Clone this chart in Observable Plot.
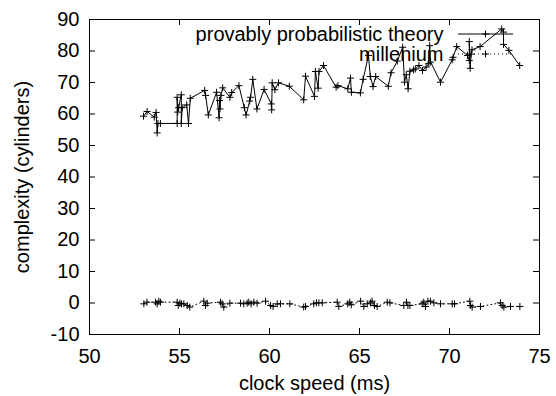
<!DOCTYPE html>
<html>
<head>
<meta charset="utf-8">
<script src="https://cdn.jsdelivr.net/npm/d3@7"></script>
<script src="https://cdn.jsdelivr.net/npm/@observablehq/plot@0.6"></script>
<style>
  html, body { margin: 0; padding: 0; background: #fff; }
  #chart svg { display: block; }
</style>
</head>
<body>
<div id="chart"></div>
<script>
// ---- data ----
const seriesNames = ["provably probabilistic theory", "millenium"];
const xLabel = "clock speed (ms)";
const yLabel = "complexity (cylinders)";
const xTicks = [50, 55, 60, 65, 70, 75];
const yTicks = [-10, 0, 10, 20, 30, 40, 50, 60, 70, 80, 90];

const theoryX = [53.0, 53.2, 53.6, 53.7, 53.76, 53.8, 53.94, 54.87, 54.87, 54.9, 54.95, 55.1, 55.1, 55.15, 55.4, 55.5, 55.6,
  56.4, 56.45, 56.6, 57.06, 57.2, 57.22, 57.25, 57.3, 57.4, 57.8, 57.9, 58.3, 58.6, 58.7, 58.9, 58.95, 59.07, 59.3, 59.7,
  60.1, 60.12, 60.15, 60.3, 60.5, 61.1, 61.9, 62.0, 62.5, 62.55, 62.7, 62.75, 63.0, 63.7, 63.8, 64.35, 64.5, 64.55,
  65.05, 65.2, 65.5, 65.6, 65.75, 65.9, 66.6, 66.75, 67.1, 67.4, 67.5, 67.6, 67.7, 67.8, 68.0, 68.1, 68.3, 68.5, 68.7,
  68.85, 68.9, 68.95, 69.5, 70.15, 70.2, 70.4, 71.0, 71.1, 71.1, 71.15, 71.2, 71.25, 71.7, 72.9, 73.0, 73.0, 73.3, 73.9];
const theoryY = [59.3, 60.8, 59.0, 60.5, 54.0, 57.0, 57.0, 57.0, 65.3, 60.6, 62.0, 66.1, 57.0, 62.0, 62.9, 57.0, 65.0,
  67.5, 65.9, 59.7, 66.9, 58.8, 64.3, 61.6, 65.9, 68.3, 65.3, 66.8, 69.0, 62.0, 59.7, 64.1, 65.3, 71.0, 61.6, 67.8,
  63.2, 61.3, 69.9, 67.7, 69.9, 68.8, 64.5, 72.0, 65.6, 73.5, 68.2, 73.5, 75.4, 68.5, 69.0, 68.0, 71.4, 66.9,
  66.7, 71.0, 78.6, 71.9, 68.7, 71.9, 68.8, 73.1, 76.8, 81.2, 70.1, 72.5, 68.0, 73.6, 74.0, 74.3, 75.4, 73.8, 74.9,
  76.0, 81.7, 76.5, 70.1, 77.2, 78.0, 81.4, 78.6, 77.0, 83.0, 74.5, 79.0, 80.4, 81.4, 87.0, 86.0, 82.1, 80.2, 75.4];

const milleniumX = [53.02, 53.19, 53.67, 53.76, 53.85, 53.94, 54.87, 54.93, 55.02, 55.11, 55.24, 55.43, 55.57,
  56.35, 56.44, 56.54, 57.28, 57.37, 57.46, 57.8, 58.39, 58.57, 58.76, 58.85, 58.98, 59.13, 59.31, 59.78,
  60.06, 60.2, 60.43, 60.61, 61.13, 61.9, 62.0, 62.46, 62.61, 62.74, 62.93, 63.76, 63.85, 64.35, 64.46, 64.54,
  65.06, 65.24, 65.43, 65.61, 65.7, 65.83, 65.98, 66.54, 66.69, 67.46, 67.61, 67.69, 67.8, 68.48, 68.57, 68.67,
  68.8, 68.94, 69.13, 69.5, 70.15, 70.28, 71.13, 71.17, 71.26, 71.72, 72.83, 72.93, 73.02, 73.39, 73.91];
const milleniumY = [-0.26, 0.26, 0.26, -0.26, 0.58, 0.26, 0.26, -0.79, -0.05, -0.26, -0.26, -0.79, -1.3,
  0.58, -0.79, -0.05, 0.26, -0.26, -1.3, -0.05, -0.05, -0.26, -0.05, 0.26, -0.26, 0.26, -0.05, 0.58,
  -0.79, -1.1, -0.26, -0.26, -0.26, -1.3, -1.1, -0.26, 0.05, 0.05, 0.05, 0.26, -1.1, -0.26, 0.26, -0.58,
  0.58, -1.1, -0.26, 0.05, 0.58, -0.79, -1.1, 0.26, 0.05, -0.79, 0.26, -0.79, -0.79, -0.26, 0.26, -1.1,
  0.58, 0.58, 0.05, -0.26, -0.26, -0.26, 0.58, -0.79, -1.3, -1.1, 0.05, -0.79, -1.3, -1.1, -1.1];

// ---- build ----
const theory = theoryX.map((x, i) => ({x, y: theoryY[i]}));
const millenium = milleniumX.map((x, i) => ({x, y: milleniumY[i]}));

const W = 556, H = 396;
const mL = 89, mR = 17, mT = 19, mB = 62;
const pw = W - mL - mR, ph = H - mT - mB;
const font = "'Liberation Sans', Arial, Helvetica, sans-serif";
const tick = 6;

const plus = {
  draw(ctx, size) {
    const r = Math.sqrt(size / Math.PI);
    ctx.moveTo(-r, 0); ctx.lineTo(r, 0);
    ctx.moveTo(0, -r); ctx.lineTo(0, r);
  }
};

const chart = Plot.plot({
  width: W, height: H,
  marginLeft: mL, marginRight: mR, marginTop: mT, marginBottom: mB,
  style: {fontFamily: font, fontSize: "20px", color: "black", background: "white"},
  x: {domain: [50, 75]},
  y: {domain: [-10, 90]},
  marks: [
    Plot.axisX({ticks: xTicks, tickSize: 0, tickPadding: 14, fontSize: 20, label: null, tickFormat: d => String(d)}),
    Plot.axisY({ticks: yTicks, tickSize: 0, tickPadding: 10, fontSize: 20, label: null, tickFormat: d => String(d)}),
    // inward ticks on all four sides
    Plot.tickX(xTicks, {x: d => d, insetTop: ph - tick, stroke: "black"}),
    Plot.tickX(xTicks, {x: d => d, insetBottom: ph - tick, stroke: "black"}),
    Plot.tickY(yTicks, {y: d => d, insetRight: pw - tick, stroke: "black"}),
    Plot.tickY(yTicks, {y: d => d, insetLeft: pw - tick, stroke: "black"}),
    // series
    Plot.line(theory, {x: "x", y: "y", stroke: "black", strokeWidth: 1}),
    Plot.dot(theory, {x: "x", y: "y", symbol: plus, r: 3.5, stroke: "black", fill: "none", strokeWidth: 1}),
    Plot.line(millenium, {x: "x", y: "y", stroke: "black", strokeWidth: 1, strokeDasharray: "1,3"}),
    Plot.dot(millenium, {x: "x", y: "y", symbol: plus, r: 3.5, stroke: "black", fill: "none", strokeWidth: 1}),
    Plot.frame({stroke: "black", strokeWidth: 1}),
    // axis titles
    Plot.text([xLabel], {text: d => d, frameAnchor: "bottom", lineAnchor: "middle", textAnchor: "middle", dy: 49, fontSize: 20, fill: "black"}),
    Plot.text([yLabel], {text: d => d, frameAnchor: "left", lineAnchor: "middle", textAnchor: "middle", rotate: -90, dx: -67, fontSize: 20, fill: "black"}),
    // legend texts
    Plot.text([seriesNames[0]], {text: d => d, frameAnchor: "top-right", textAnchor: "end", lineAnchor: "middle", dx: -96, dy: 15, fontSize: 20, fill: "black"}),
    Plot.text([seriesNames[1]], {text: d => d, frameAnchor: "top-right", textAnchor: "end", lineAnchor: "middle", dx: -96, dy: 35, fontSize: 20, fill: "black"})
  ]
});

// legend samples
const svg = d3.select(chart);
const lx1 = W - mR - 81, lx2 = W - mR - 26, lxm = (lx1 + lx2) / 2;
const ly = [mT + 15, mT + 35];
const g = svg.append("g").attr("stroke", "black").attr("fill", "none").attr("stroke-width", 1);
g.append("line").attr("x1", lx1).attr("x2", lx2).attr("y1", ly[0]).attr("y2", ly[0]);
g.append("path").attr("d", `M${lxm-3.5},${ly[0]}h7M${lxm},${ly[0]-3.5}v7`);
g.append("line").attr("x1", lx1).attr("x2", lx2).attr("y1", ly[1]).attr("y2", ly[1]).attr("stroke-dasharray", "1,3");
g.append("path").attr("d", `M${lxm-3.5},${ly[1]}h7M${lxm},${ly[1]-3.5}v7`);

document.getElementById("chart").appendChild(chart);
</script>
</body>
</html>
